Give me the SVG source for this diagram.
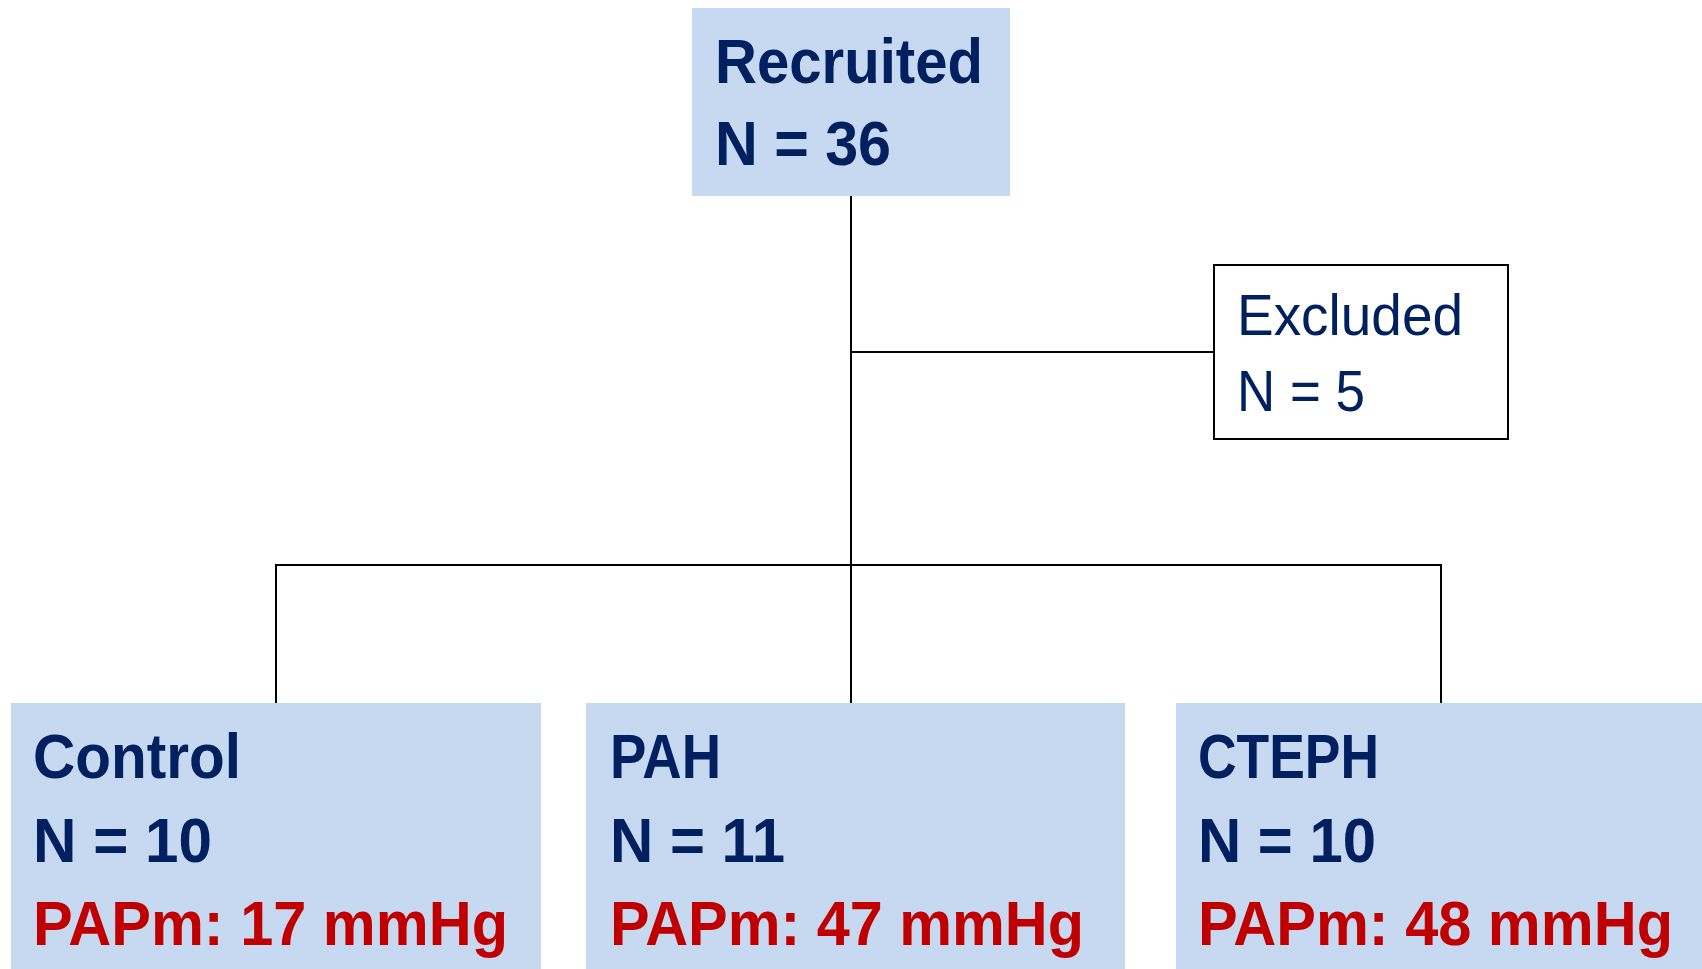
<svg xmlns="http://www.w3.org/2000/svg" width="1702" height="969" viewBox="0 0 1702 969">
<style>
.box{fill:#C6D9F0;stroke:none}
.exbox{fill:#FFFFFF;stroke:#000000;stroke-width:2}
.conn{fill:none;stroke:#000000;stroke-width:2}
.b{font-family:"Liberation Sans",Arial,sans-serif;font-weight:bold;font-size:63px;fill:#002060}
.r{font-family:"Liberation Sans",Arial,sans-serif;font-weight:bold;font-size:63px;fill:#C00000}
.n{font-family:"Liberation Sans",Arial,sans-serif;font-weight:normal;font-size:57px;fill:#002060}
</style>
<rect width="1702" height="969" fill="#FFFFFF"/>
<g id="connectors">
<line class="conn" x1="851" y1="196" x2="851" y2="703"/>
<line class="conn" x1="851" y1="352" x2="1214" y2="352"/>
<polyline class="conn" points="276,703 276,565 1441,565 1441,703"/>
</g>
<g id="recruited">
<rect class="box" x="692" y="8" width="318" height="188"/>
<text class="b" x="715" y="83" textLength="268" lengthAdjust="spacingAndGlyphs">Recruited</text>
<text class="b" x="715" y="165" textLength="176" lengthAdjust="spacingAndGlyphs">N = 36</text>
</g>
<g id="excluded">
<rect class="exbox" x="1214" y="265" width="294" height="174"/>
<text class="n" x="1237" y="335" textLength="226" lengthAdjust="spacingAndGlyphs">Excluded</text>
<text class="n" x="1237" y="411" textLength="128" lengthAdjust="spacingAndGlyphs">N = 5</text>
</g>
<g id="control">
<rect class="box" x="11" y="703" width="530" height="266"/>
<text class="b" x="33" y="778" textLength="208" lengthAdjust="spacingAndGlyphs">Control</text>
<text class="b" x="33" y="862" textLength="179" lengthAdjust="spacingAndGlyphs">N = 10</text>
<text class="r" x="33" y="945" textLength="475" lengthAdjust="spacingAndGlyphs">PAPm: 17 mmHg</text>
</g>
<g id="pah">
<rect class="box" x="586" y="703" width="539" height="266"/>
<text class="b" x="610" y="778" textLength="111" lengthAdjust="spacingAndGlyphs">PAH</text>
<text class="b" x="610" y="862" textLength="175" lengthAdjust="spacingAndGlyphs">N = 11</text>
<text class="r" x="610" y="945" textLength="474" lengthAdjust="spacingAndGlyphs">PAPm: 47 mmHg</text>
</g>
<g id="cteph">
<rect class="box" x="1176" y="703" width="526" height="266"/>
<text class="b" x="1198" y="778" textLength="181" lengthAdjust="spacingAndGlyphs">CTEPH</text>
<text class="b" x="1198" y="862" textLength="178" lengthAdjust="spacingAndGlyphs">N = 10</text>
<text class="r" x="1198" y="945" textLength="475" lengthAdjust="spacingAndGlyphs">PAPm: 48 mmHg</text>
</g>
</svg>
